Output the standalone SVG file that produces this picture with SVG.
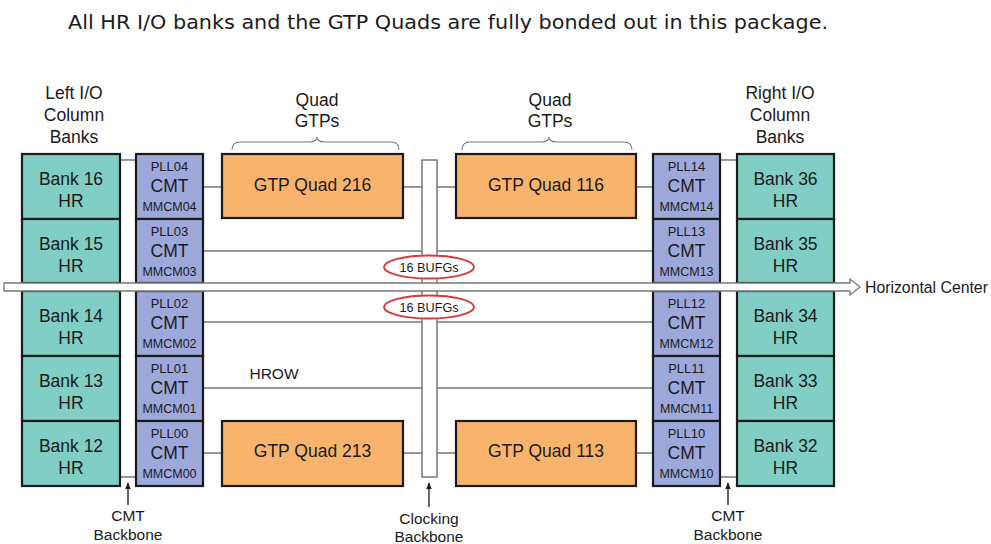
<svg xmlns="http://www.w3.org/2000/svg" width="991" height="544" viewBox="0 0 991 544">
<style>
text{font-family:"Liberation Sans",Arial,sans-serif;fill:#1a1a1a;text-anchor:middle}
.bank{fill:#80cec4;stroke:#1a1a1a;stroke-width:2.2}
.cmt{fill:#9ea8da;stroke:#1a1a1a;stroke-width:2.2}
.gtp{fill:#f8b46c;stroke:#1a1a1a;stroke-width:2.2}
.bl{font-size:17.5px}
.pll{font-size:13px}
.cm{font-size:17.5px}
.mm{font-size:12.5px}
.hd{font-size:17.5px}
.lb{font-size:15.5px}
.ln{stroke:#777;stroke-width:1.5;fill:none}
.bufg{fill:#fff;stroke:#d63a3a;stroke-width:2}
</style>
<defs>
<marker id="ah" viewBox="0 0 10 10" refX="9" refY="5" markerWidth="7" markerHeight="7" orient="auto" markerUnits="userSpaceOnUse">
<path d="M0,1 L10,5 L0,9 Z" fill="#1a1a1a"/>
</marker>
</defs>
<rect width="991" height="544" fill="#fff"/>
<text x="448" y="28.5" style="font-family:'DejaVu Sans',sans-serif;font-size:20px" textLength="760" lengthAdjust="spacingAndGlyphs">All HR I/O banks and the GTP Quads are fully bonded out in this package.</text>

<g id="headers">
<text class="hd" x="74" y="99">Left I/O</text>
<text class="hd" x="74" y="121">Column</text>
<text class="hd" x="74" y="143">Banks</text>
<text class="hd" x="780" y="99">Right I/O</text>
<text class="hd" x="780" y="121">Column</text>
<text class="hd" x="780" y="143">Banks</text>
<text class="hd" x="317" y="106">Quad</text>
<text class="hd" x="317" y="127">GTPs</text>
<text class="hd" x="550" y="106">Quad</text>
<text class="hd" x="550" y="127">GTPs</text>
<path class="ln" style="stroke-width:1.2" d="M232,150 q0,-8 8,-8 L309,142 q8,0 8,-5 q0,5 8,5 L391,142 q8,0 8,8"/>
<path class="ln" style="stroke-width:1.2" d="M462,150 q0,-8 8,-8 L541,142 q8,0 8,-5 q0,5 8,5 L624,142 q8,0 8,8"/>
</g>

<g id="connectors">
<path class="ln" d="M203,187 H222 M403,187 H422 M437,187 H456 M636,187 H653"/>
<path class="ln" d="M203,251 H653 M203,322 H653 M203,388 H653"/>
<path class="ln" d="M203,453 H222 M403,453 H422 M437,453 H456 M636,453 H653"/>
<path class="ln" d="M120,160 H136 M720,160 H737 M120,477 H136 M720,477 H737"/>
<line x1="128" y1="505" x2="128" y2="483" stroke="#1a1a1a" stroke-width="1.3" marker-end="url(#ah)"/>
<line x1="429" y1="507" x2="429" y2="483" stroke="#1a1a1a" stroke-width="1.3" marker-end="url(#ah)"/>
<line x1="728" y1="505" x2="728" y2="483" stroke="#1a1a1a" stroke-width="1.3" marker-end="url(#ah)"/>
</g>

<g id="clocking-backbone">
<rect x="422" y="160" width="15" height="317" fill="#fff" stroke="#777" stroke-width="1.5"/>
</g>

<g id="left-banks">
<g id="bank16"><rect class="bank" x="22" y="154" width="98" height="65"/><text class="bl" x="71" y="185">Bank 16</text><text class="bl" x="71" y="207">HR</text></g>
<g id="bank15"><rect class="bank" x="22" y="219" width="98" height="64"/><text class="bl" x="71" y="250">Bank 15</text><text class="bl" x="71" y="272">HR</text></g>
<g id="bank14"><rect class="bank" x="22" y="291" width="98" height="65"/><text class="bl" x="71" y="322">Bank 14</text><text class="bl" x="71" y="344">HR</text></g>
<g id="bank13"><rect class="bank" x="22" y="356" width="98" height="65"/><text class="bl" x="71" y="387">Bank 13</text><text class="bl" x="71" y="409">HR</text></g>
<g id="bank12"><rect class="bank" x="22" y="421" width="98" height="65"/><text class="bl" x="71" y="452">Bank 12</text><text class="bl" x="71" y="474">HR</text></g>
</g>

<g id="left-cmts">
<g id="cmt04"><rect class="cmt" x="136" y="154" width="67" height="65"/><text class="pll" x="169.5" y="171">PLL04</text><text class="cm" x="169.5" y="191.5">CMT</text><text class="mm" x="169.5" y="211">MMCM04</text></g>
<g id="cmt03"><rect class="cmt" x="136" y="219" width="67" height="64"/><text class="pll" x="169.5" y="236">PLL03</text><text class="cm" x="169.5" y="256.5">CMT</text><text class="mm" x="169.5" y="276">MMCM03</text></g>
<g id="cmt02"><rect class="cmt" x="136" y="291" width="67" height="65"/><text class="pll" x="169.5" y="308">PLL02</text><text class="cm" x="169.5" y="328.5">CMT</text><text class="mm" x="169.5" y="348">MMCM02</text></g>
<g id="cmt01"><rect class="cmt" x="136" y="356" width="67" height="65"/><text class="pll" x="169.5" y="373">PLL01</text><text class="cm" x="169.5" y="393.5">CMT</text><text class="mm" x="169.5" y="413">MMCM01</text></g>
<g id="cmt00"><rect class="cmt" x="136" y="421" width="67" height="65"/><text class="pll" x="169.5" y="438">PLL00</text><text class="cm" x="169.5" y="458.5">CMT</text><text class="mm" x="169.5" y="478">MMCM00</text></g>
</g>

<g id="right-cmts">
<g id="cmt14"><rect class="cmt" x="653" y="154" width="67" height="65"/><text class="pll" x="686.5" y="171">PLL14</text><text class="cm" x="686.5" y="191.5">CMT</text><text class="mm" x="686.5" y="211">MMCM14</text></g>
<g id="cmt13"><rect class="cmt" x="653" y="219" width="67" height="64"/><text class="pll" x="686.5" y="236">PLL13</text><text class="cm" x="686.5" y="256.5">CMT</text><text class="mm" x="686.5" y="276">MMCM13</text></g>
<g id="cmt12"><rect class="cmt" x="653" y="291" width="67" height="65"/><text class="pll" x="686.5" y="308">PLL12</text><text class="cm" x="686.5" y="328.5">CMT</text><text class="mm" x="686.5" y="348">MMCM12</text></g>
<g id="cmt11"><rect class="cmt" x="653" y="356" width="67" height="65"/><text class="pll" x="686.5" y="373">PLL11</text><text class="cm" x="686.5" y="393.5">CMT</text><text class="mm" x="686.5" y="413">MMCM11</text></g>
<g id="cmt10"><rect class="cmt" x="653" y="421" width="67" height="65"/><text class="pll" x="686.5" y="438">PLL10</text><text class="cm" x="686.5" y="458.5">CMT</text><text class="mm" x="686.5" y="478">MMCM10</text></g>
</g>

<g id="right-banks">
<g id="bank36"><rect class="bank" x="737" y="154" width="97" height="65"/><text class="bl" x="785.5" y="185">Bank 36</text><text class="bl" x="785.5" y="207">HR</text></g>
<g id="bank35"><rect class="bank" x="737" y="219" width="97" height="64"/><text class="bl" x="785.5" y="250">Bank 35</text><text class="bl" x="785.5" y="272">HR</text></g>
<g id="bank34"><rect class="bank" x="737" y="291" width="97" height="65"/><text class="bl" x="785.5" y="322">Bank 34</text><text class="bl" x="785.5" y="344">HR</text></g>
<g id="bank33"><rect class="bank" x="737" y="356" width="97" height="65"/><text class="bl" x="785.5" y="387">Bank 33</text><text class="bl" x="785.5" y="409">HR</text></g>
<g id="bank32"><rect class="bank" x="737" y="421" width="97" height="65"/><text class="bl" x="785.5" y="452">Bank 32</text><text class="bl" x="785.5" y="474">HR</text></g>
</g>

<g id="gtp216"><rect class="gtp" x="222" y="154" width="181" height="64"/><text class="bl" x="312.5" y="191">GTP Quad 216</text></g>
<g id="gtp116"><rect class="gtp" x="456" y="154" width="180" height="64"/><text class="bl" x="546" y="191">GTP Quad 116</text></g>
<g id="gtp213"><rect class="gtp" x="222" y="421" width="181" height="65"/><text class="bl" x="312.5" y="457">GTP Quad 213</text></g>
<g id="gtp113"><rect class="gtp" x="456" y="421" width="180" height="65"/><text class="bl" x="546" y="457">GTP Quad 113</text></g>

<g id="horizontal-center">
<polygon points="4,283 850,283 850,279 860,287 850,295 850,291 4,291" fill="#fff" stroke="#777" stroke-width="1.3"/>
<text x="865" y="292.5" style="font-size:15.8px;text-anchor:start">Horizontal Center</text>
</g>

<g id="bufg-top"><ellipse class="bufg" cx="429" cy="267" rx="45" ry="11.5"/><text x="429" y="271.5" style="font-size:12.7px">16 BUFGs</text></g>
<g id="bufg-bottom"><ellipse class="bufg" cx="429" cy="307" rx="45" ry="11.5"/><text x="429" y="311.5" style="font-size:12.7px">16 BUFGs</text></g>

<g id="labels">
<text x="274" y="378.5" style="font-size:15.5px">HROW</text>
<text class="lb" x="128" y="520.5">CMT</text>
<text class="lb" x="128" y="539.5">Backbone</text>
<text class="lb" x="429" y="523.5">Clocking</text>
<text class="lb" x="429" y="541.5">Backbone</text>
<text class="lb" x="728" y="520.5">CMT</text>
<text class="lb" x="728" y="539.5">Backbone</text>
</g>
</svg>
